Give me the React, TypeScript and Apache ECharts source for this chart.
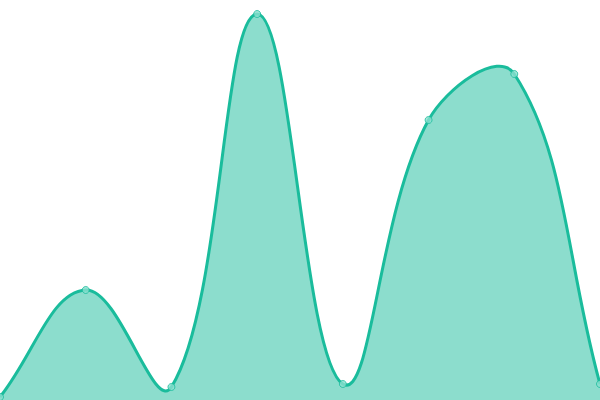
import { useEffect, useRef } from 'react'
import * as echarts from 'echarts'

const categories = ['A', 'B', 'C', 'D', 'E', 'F', 'G', 'H']
const values = [3, 110, 13, 386, 16, 280, 326, 16]
const yMax = 400
const tension = 0.4

// cardinal-style smoothing (no clamping, so the curve may overshoot like the original)
function buildCurve(pts: number[][]) {
  let d = `M${pts[0][0]},${pts[0][1]}`
  const cps = pts.map((p, i) => {
    const prev = pts[i - 1] || p
    const next = pts[i + 1] || p
    const d01 = Math.hypot(p[0] - prev[0], p[1] - prev[1])
    const d12 = Math.hypot(next[0] - p[0], next[1] - p[1])
    const sum = d01 + d12 || 1
    const vx = next[0] - prev[0]
    const vy = next[1] - prev[1]
    const fa = (tension * d01) / sum
    const fb = (tension * d12) / sum
    return {
      before: [p[0] - vx * fa, p[1] - vy * fa],
      after: [p[0] + vx * fb, p[1] + vy * fb],
    }
  })
  for (let i = 0; i < pts.length - 1; i++) {
    const c1 = cps[i].after
    const c2 = cps[i + 1].before
    const p = pts[i + 1]
    d += ` C${c1[0]},${c1[1]} ${c2[0]},${c2[1]} ${p[0]},${p[1]}`
  }
  return d
}

export default function App() {
  const containerRef = useRef<HTMLDivElement>(null)

  useEffect(() => {
    if (!containerRef.current) return

    const chart = echarts.init(containerRef.current, null, { renderer: 'svg' })
    const color = '#1abc9c'

    chart.setOption({
      animation: false,
      grid: { left: 0, right: 0, top: 0, bottom: 0 },
      xAxis: { type: 'category', data: categories, boundaryGap: false, show: false },
      yAxis: { type: 'value', min: 0, max: yMax, show: false },
      series: [
        {
          type: 'custom',
          data: values.map((v, i) => [i, v]),
          clip: false,
          renderItem: (params: any, api: any) => {
            if (params.dataIndex !== 0) return null
            const pts = values.map((v, i) => api.coord([i, v]))
            const base = api.coord([0, 0])[1]
            const line = buildCurve(pts)
            const last = pts[pts.length - 1]
            const area = `${line} L${last[0]},${base} L${pts[0][0]},${base} Z`
            return {
              type: 'group',
              children: [
                { type: 'path', shape: { pathData: area }, style: { fill: color, opacity: 0.5 } },
                {
                  type: 'path',
                  shape: { pathData: line },
                  style: { fill: 'none', stroke: color, lineWidth: 3 },
                },
              ],
            }
          },
        },
        {
          type: 'scatter',
          data: values,
          symbol: 'circle',
          symbolSize: 7,
          z: 5,
          itemStyle: { color: '#8be0d0', borderColor: color, borderWidth: 1 },
        },
      ],
    })

    return () => {
      chart.dispose()
    }
  }, [])

  return (
    <div
      ref={containerRef}
      style={{ position: 'absolute', left: 0, top: 0, width: '600px', height: '400px' }}
    />
  )
}
